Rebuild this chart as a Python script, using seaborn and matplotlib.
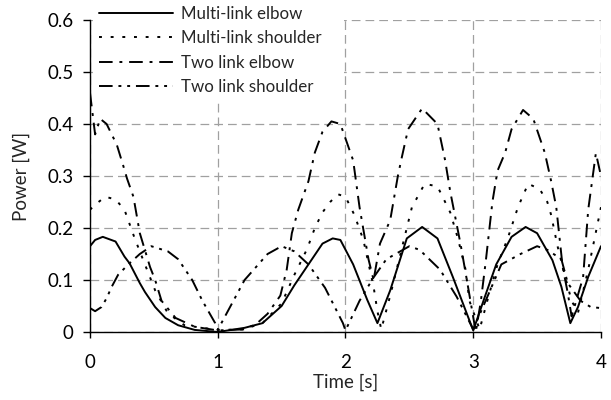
import numpy as np
import pandas as pd
import seaborn as sns
import matplotlib.pyplot as plt

# valores (tempo em s, potência em W)
t_ml_elbow = [0, 0.04, 0.1, 0.2, 0.27, 0.31, 0.39, 0.43, 0.51, 0.59,
              0.69, 0.82, 1.0, 1.21, 1.35, 1.5, 1.6, 1.71, 1.82, 1.9,
              1.96, 2.06, 2.17, 2.25, 2.35, 2.48, 2.6, 2.72, 2.84, 3.0,
              3.09, 3.18, 3.3, 3.41, 3.5, 3.62, 3.69, 3.76, 3.82, 3.9, 4.0]
p_ml_elbow = [0.165, 0.177, 0.183, 0.174, 0.145, 0.132, 0.094, 0.077, 0.048, 0.027,
              0.013, 0.004, 0.0, 0.008, 0.017, 0.05, 0.09, 0.13, 0.17, 0.18,
              0.177, 0.13, 0.062, 0.017, 0.08, 0.18, 0.202, 0.18, 0.106, 0.003,
              0.067, 0.13, 0.183, 0.202, 0.19, 0.138, 0.087, 0.017, 0.048, 0.106, 0.165]

t_ml_shoulder = [0, 0.04, 0.12, 0.2, 0.27, 0.35, 0.43, 0.51, 0.61, 0.74,
                 0.88, 1.0, 1.2, 1.35, 1.5, 1.6, 1.7, 1.76, 1.82, 1.88,
                 1.94, 2.0, 2.07, 2.14, 2.22, 2.25, 2.28, 2.35, 2.43, 2.52,
                 2.62, 2.72, 2.82, 2.88, 2.94, 2.97, 3.05, 3.11, 3.19, 3.27,
                 3.35, 3.43, 3.52, 3.58, 3.61, 3.66, 3.72, 3.77, 3.82, 3.9, 4.0]
p_ml_shoulder = [0.235, 0.245, 0.26, 0.255, 0.235, 0.18, 0.13, 0.08, 0.036, 0.013,
                 0.008, 0.004, 0.005, 0.017, 0.055, 0.11, 0.16, 0.2, 0.23, 0.25,
                 0.265, 0.26, 0.225, 0.177, 0.087, 0.04, 0.005, 0.07, 0.15, 0.24,
                 0.285, 0.28, 0.23, 0.18, 0.12, 0.06, 0.005, 0.06, 0.13, 0.18,
                 0.24, 0.285, 0.275, 0.25, 0.225, 0.165, 0.106, 0.06, 0.037, 0.12, 0.24]

t_tl_elbow = [0, 0.04, 0.08, 0.13, 0.21, 0.26, 0.29, 0.34, 0.39, 0.47,
              0.51, 0.56, 0.67, 0.82, 1.0, 1.2, 1.3, 1.39, 1.49, 1.54,
              1.58, 1.63, 1.71, 1.76, 1.82, 1.89, 1.96, 2.06, 2.11, 2.18,
              2.22, 2.27, 2.35, 2.41, 2.44, 2.49, 2.6, 2.72, 2.78, 2.82,
              2.9, 2.95, 3.02, 3.06, 3.1, 3.15, 3.19, 3.25, 3.3, 3.39,
              3.47, 3.56, 3.61, 3.65, 3.7, 3.74, 3.77, 3.86, 3.9, 3.96, 4.0]
p_tl_elbow = [0.46, 0.38, 0.41, 0.40, 0.36, 0.32, 0.295, 0.26, 0.19, 0.125,
              0.1, 0.06, 0.027, 0.01, 0.003, 0.005, 0.015, 0.035, 0.07, 0.12,
              0.19, 0.235, 0.29, 0.345, 0.385, 0.405, 0.40, 0.33, 0.24, 0.14,
              0.10, 0.17, 0.215, 0.30, 0.335, 0.39, 0.43, 0.40, 0.33, 0.27,
              0.17, 0.10, 0.0, 0.06, 0.14, 0.25, 0.31, 0.345, 0.39, 0.427,
              0.41, 0.345, 0.29, 0.24, 0.125, 0.075, 0.03, 0.105, 0.235, 0.344, 0.30]

t_tl_shoulder = [0, 0.04, 0.09, 0.13, 0.17, 0.22, 0.3, 0.39, 0.48, 0.61,
                 0.69, 0.8, 0.88, 0.98, 1.0, 1.21, 1.39, 1.5, 1.6, 1.71,
                 1.84, 1.98, 2.0, 2.11, 2.22, 2.32, 2.5, 2.58, 2.74, 2.87,
                 3.0, 3.22, 3.37, 3.5, 3.58, 3.69, 3.74, 3.84, 3.92, 4.0]
p_tl_shoulder = [0.046, 0.04, 0.048, 0.065, 0.087, 0.11, 0.13, 0.15, 0.165, 0.155,
                 0.14, 0.1, 0.06, 0.017, 0.004, 0.1, 0.15, 0.165, 0.155, 0.13,
                 0.085, 0.017, 0.003, 0.06, 0.105, 0.14, 0.165, 0.158, 0.12, 0.068,
                 0.005, 0.13, 0.15, 0.165, 0.158, 0.14, 0.094, 0.06, 0.048, 0.046]

labels = ["Multi-link elbow", "Multi-link shoulder", "Two link elbow", "Two link shoulder"]
x_ticks = [0, 1, 2, 3, 4]
y_ticks = [0, 0.1, 0.2, 0.3, 0.4, 0.5, 0.6]
y_tick_labels = ["0", "0.1", "0.2", "0.3", "0.4", "0.5", "0.6"]

sns.set_theme(style="white")
plt.rcParams['font.family'] = ['Lato', 'DejaVu Sans']

fig = plt.figure(figsize=(6.11, 4.0), dpi=100)
ax = fig.add_axes([0.1473, 0.17, 0.8363, 0.78])

series = [(t_ml_elbow, p_ml_elbow), (t_ml_shoulder, p_ml_shoulder),
          (t_tl_elbow, p_tl_elbow), (t_tl_shoulder, p_tl_shoulder)]
dash_styles = [None, (1.5, 4.5), (7, 3.5, 1.5, 3.5), (7, 3, 1.5, 3, 1.5, 3)]

for (tt, pp), lab, ds in zip(series, labels, dash_styles):
    df = pd.DataFrame({"t": tt, "p": pp})
    sns.lineplot(data=df, x="t", y="p", ax=ax, color="black", linewidth=1.4,
                 estimator=None, sort=False, label=lab)
    if ds is not None:
        ax.lines[-1].set_dashes(ds)

ax.set_xlim(0, 4)
ax.set_ylim(0, 0.6)
ax.set_xticks(x_ticks)
ax.set_xticklabels([str(v) for v in x_ticks])
ax.set_yticks(y_ticks)
ax.set_yticklabels(y_tick_labels)
ax.tick_params(axis="both", labelsize=13.5, colors="black", direction="out",
               width=1, left=True, bottom=True)
ax.tick_params(axis="x", pad=12, length=4)
ax.tick_params(axis="y", pad=7, length=5)

ax.grid(True, color="#a0a0a0", linestyle=(0, (7, 4)), linewidth=0.9)
for s in ["top", "right"]:
    ax.spines[s].set_visible(False)
for s in ["left", "bottom"]:
    ax.spines[s].set_color("black")
    ax.spines[s].set_linewidth(1)

ax.set_xlabel("Time [s]", fontsize=13.5)
ax.set_ylabel("Power [W]", fontsize=13.5)
ax.xaxis.set_label_coords(0.5, -0.135)
ax.yaxis.set_label_coords(-0.118, 0.5)

leg = ax.legend(loc="upper left", bbox_to_anchor=(0.153, 0.9, 0.41, 0.098),
                bbox_transform=fig.transFigure, mode="expand",
                frameon=True, fontsize=12.2, handlelength=4.4, handletextpad=0.47,
                labelspacing=0.5, borderpad=0.3, borderaxespad=0)
leg.get_frame().set_facecolor("white")
leg.get_frame().set_edgecolor("none")
leg.get_frame().set_alpha(1)

fig.savefig("out.png", dpi=100)
